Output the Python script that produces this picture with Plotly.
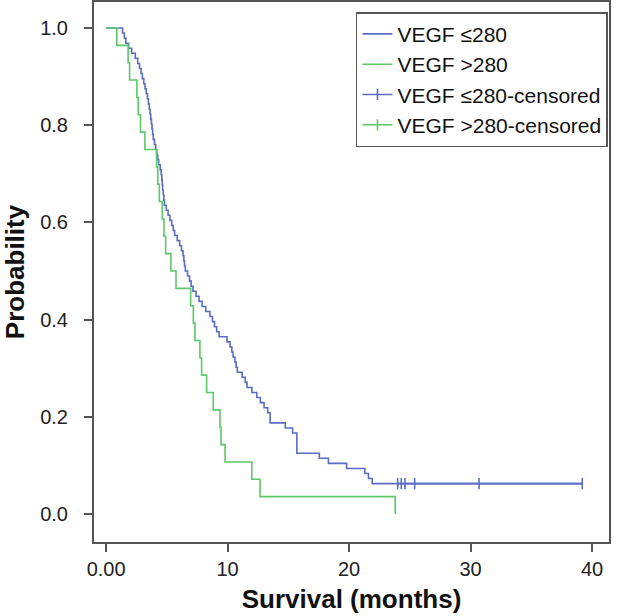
import plotly.graph_objects as go

# VEGF <=280 group: event times (months) and censored times
low_event_times = [1.35, 1.5, 1.62, 1.85, 2.1, 2.4, 2.6, 2.75, 2.88, 2.98,
                   3.1, 3.2, 3.3, 3.4, 3.48, 3.55, 3.62, 3.67, 3.73, 3.78,
                   3.83, 3.88, 3.98, 4.08, 4.16, 4.24, 4.32, 4.45, 4.53, 4.58,
                   4.62, 4.65, 4.7, 4.75, 4.8, 4.95, 5.1, 5.25, 5.4, 5.52,
                   5.64, 5.85, 6.05, 6.2, 6.33, 6.4, 6.45, 6.52, 6.7, 6.87,
                   7.0, 7.15, 7.4, 7.65, 7.9, 8.2, 8.55, 8.75, 8.92, 9.1,
                   9.3, 9.95, 10.2, 10.35, 10.45, 10.6, 10.7, 10.8, 11.2, 11.45,
                   11.6, 12.0, 12.4, 12.7, 13.0, 13.3, 13.5, 13.5, 14.75, 15.35,
                   15.7, 15.7, 15.7, 15.7, 17.55, 18.3, 19.8, 21.3, 21.6, 21.9]
low_censored_times = [24.0, 24.3, 24.6, 25.4, 30.7, 39.2]

# VEGF >280 group
high_event_times = [0.88, 1.81, 1.93, 2.53, 2.64, 2.83, 3.19, 4.15, 4.25, 4.38,
                    4.62, 4.76, 4.90, 5.33, 5.75, 6.96, 7.18, 7.31, 7.72, 7.86,
                    8.27, 8.82, 9.37, 9.46, 9.79, 11.99, 12.67, 23.8]
high_censored_times = []

x_ticks = [0, 10, 20, 30, 40]
x_tick_labels = ["0.00", "10", "20", "30", "40"]
y_ticks = [0.0, 0.2, 0.4, 0.6, 0.8, 1.0]
y_tick_labels = ["0.0", "0.2", "0.4", "0.6", "0.8", "1.0"]

BLUE = "#5a6dc2"
GREEN = "#5cc867"
FONT = "Liberation Sans, Arial, sans-serif"


def kaplan_meier(events, censored):
    records = sorted([(t, 1) for t in events] + [(t, 0) for t in censored])
    at_risk = len(records)
    s = 1.0
    xs, ys = [0.0], [1.0]
    cx, cy = [], []
    i = 0
    while i < len(records):
        t = records[i][0]
        d = c = 0
        while i < len(records) and records[i][0] == t:
            if records[i][1] == 1:
                d += 1
            else:
                c += 1
            i += 1
        if d:
            s = s * (1 - d / at_risk)
        xs.append(t)
        ys.append(s)
        for _ in range(c):
            cx.append(t)
            cy.append(s)
        at_risk -= d + c
    return xs, ys, cx, cy


lx, ly, lcx, lcy = kaplan_meier(low_event_times, low_censored_times)
hx, hy, hcx, hcy = kaplan_meier(high_event_times, high_censored_times)

fig = go.Figure()
fig.add_trace(go.Scatter(x=lx, y=ly, mode="lines", line=dict(shape="hv", color=BLUE, width=1.6),
                         name="VEGF ≤280"))
fig.add_trace(go.Scatter(x=hx, y=hy, mode="lines", line=dict(shape="hv", color=GREEN, width=1.6),
                         name="VEGF >280"))
fig.add_trace(go.Scatter(x=lcx, y=lcy, mode="lines+markers",
                         line=dict(color=BLUE, width=1.6),
                         marker=dict(symbol="line-ns", size=8, color=BLUE,
                                     line=dict(color=BLUE, width=1.6)),
                         name="VEGF ≤280-censored"))
fig.add_trace(go.Scatter(x=hcx if hcx else [None], y=hcy if hcy else [None], mode="lines+markers",
                         line=dict(color=GREEN, width=1.6),
                         marker=dict(symbol="line-ns", size=8, color=GREEN,
                                     line=dict(color=GREEN, width=1.6)),
                         name="VEGF >280-censored"))

axis_common = dict(showline=True, linecolor="#555555", linewidth=2, mirror=True,
                   ticks="outside", ticklen=8, tickwidth=2, tickcolor="#555555",
                   showgrid=False, zeroline=False,
                   tickfont=dict(family=FONT, size=20, color="#222222"))

fig.update_xaxes(range=[-1.0, 41.4], tickvals=x_ticks, ticktext=x_tick_labels,
                 title=dict(text="<b>Survival (months)</b>", font=dict(family=FONT, size=26, color="#111111"),
                            standoff=11),
                 **axis_common)
fig.update_yaxes(range=[-0.0576, 1.0535], tickvals=y_ticks, ticktext=y_tick_labels,
                 ticklabelstandoff=12,
                 title=dict(text="<b>Probability</b>", font=dict(family=FONT, size=26, color="#111111"),
                            standoff=12),
                 **axis_common)

fig.update_layout(
    width=621, height=616,
    margin=dict(l=94, r=12, t=2, b=74, autoexpand=False),
    plot_bgcolor="white", paper_bgcolor="white",
    legend=dict(x=0.998, y=0.981, xanchor="right", yanchor="top",
                bgcolor="white", bordercolor="#555555", borderwidth=1.5,
                font=dict(family=FONT, size=21, color="#111111"),
                tracegroupgap=0, itemwidth=30),
    showlegend=True,
)

fig.write_html("out.html", config={"displayModeBar": False},
               post_script="document.body.style.margin='0';")
